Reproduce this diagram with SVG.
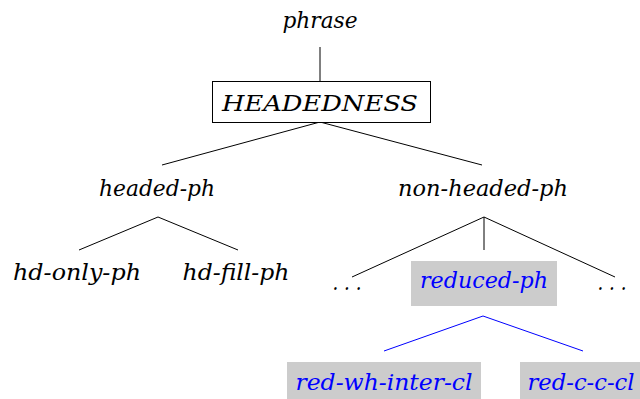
<svg xmlns="http://www.w3.org/2000/svg" width="640" height="399" viewBox="0 0 640 399">
  <style>
    .lbl { font-family: "DejaVu Serif", "Liberation Serif", serif; font-style: italic; font-size: 22px; fill: #000; text-anchor: middle; }
    .hi { fill: #0000ff; }
    .edge { stroke: #000; stroke-width: 1; fill: none; }
    .edge-hi { stroke: #0000ff; stroke-width: 1; fill: none; }
    .hl { fill: #cccccc; }
    .box { fill: #fff; stroke: #000; stroke-width: 1; }
  </style>
  <rect width="640" height="399" fill="#fff"/>

  <g id="connectors">
    <line class="edge" x1="320" y1="47" x2="320" y2="81"/>
    <line class="edge" x1="320" y1="122" x2="162" y2="165"/>
    <line class="edge" x1="320" y1="122" x2="482" y2="165"/>
    <line class="edge" x1="158" y1="217" x2="79" y2="250"/>
    <line class="edge" x1="158" y1="217" x2="238" y2="250"/>
    <line class="edge" x1="484" y1="217" x2="352" y2="277"/>
    <line class="edge" x1="484" y1="217" x2="484" y2="250"/>
    <line class="edge" x1="484" y1="217" x2="615" y2="277"/>
    <line class="edge-hi" x1="483" y1="316" x2="384" y2="351"/>
    <line class="edge-hi" x1="483" y1="316" x2="583" y2="351"/>
  </g>

  <g id="phrase">
    <text class="lbl" x="320" y="28" textLength="75" lengthAdjust="spacingAndGlyphs">phrase</text>
  </g>
  <g id="headedness">
    <rect class="box" x="212.5" y="81.5" width="218" height="41"/>
    <text class="lbl" x="320" y="111" textLength="196" lengthAdjust="spacingAndGlyphs">HEADEDNESS</text>
  </g>
  <g id="headed-ph">
    <text class="lbl" x="157" y="196" textLength="116" lengthAdjust="spacingAndGlyphs">headed-ph</text>
  </g>
  <g id="non-headed-ph">
    <text class="lbl" x="483" y="196" textLength="170" lengthAdjust="spacingAndGlyphs">non-headed-ph</text>
  </g>
  <g id="hd-only-ph">
    <text class="lbl" x="77" y="280" textLength="128" lengthAdjust="spacingAndGlyphs">hd-only-ph</text>
  </g>
  <g id="hd-fill-ph">
    <text class="lbl" x="236" y="280" textLength="107" lengthAdjust="spacingAndGlyphs">hd-fill-ph</text>
  </g>
  <g id="ellipsis-left">
    <text class="lbl" x="347" y="290" textLength="29" lengthAdjust="spacingAndGlyphs">. . .</text>
  </g>
  <g id="reduced-ph">
    <rect class="hl" x="411" y="261" width="146" height="45"/>
    <text class="lbl hi" x="484" y="288" textLength="128" lengthAdjust="spacingAndGlyphs">reduced-ph</text>
  </g>
  <g id="ellipsis-right">
    <text class="lbl" x="612" y="290" textLength="29" lengthAdjust="spacingAndGlyphs">. . .</text>
  </g>
  <g id="red-wh-inter-cl">
    <rect class="hl" x="287" y="362" width="194" height="37"/>
    <text class="lbl hi" x="384" y="390" textLength="177" lengthAdjust="spacingAndGlyphs">red-wh-inter-cl</text>
  </g>
  <g id="red-c-c-cl">
    <rect class="hl" x="520" y="362" width="120" height="37"/>
    <text class="lbl hi" x="581" y="390" textLength="107" lengthAdjust="spacingAndGlyphs">red-c-c-cl</text>
  </g>
</svg>
